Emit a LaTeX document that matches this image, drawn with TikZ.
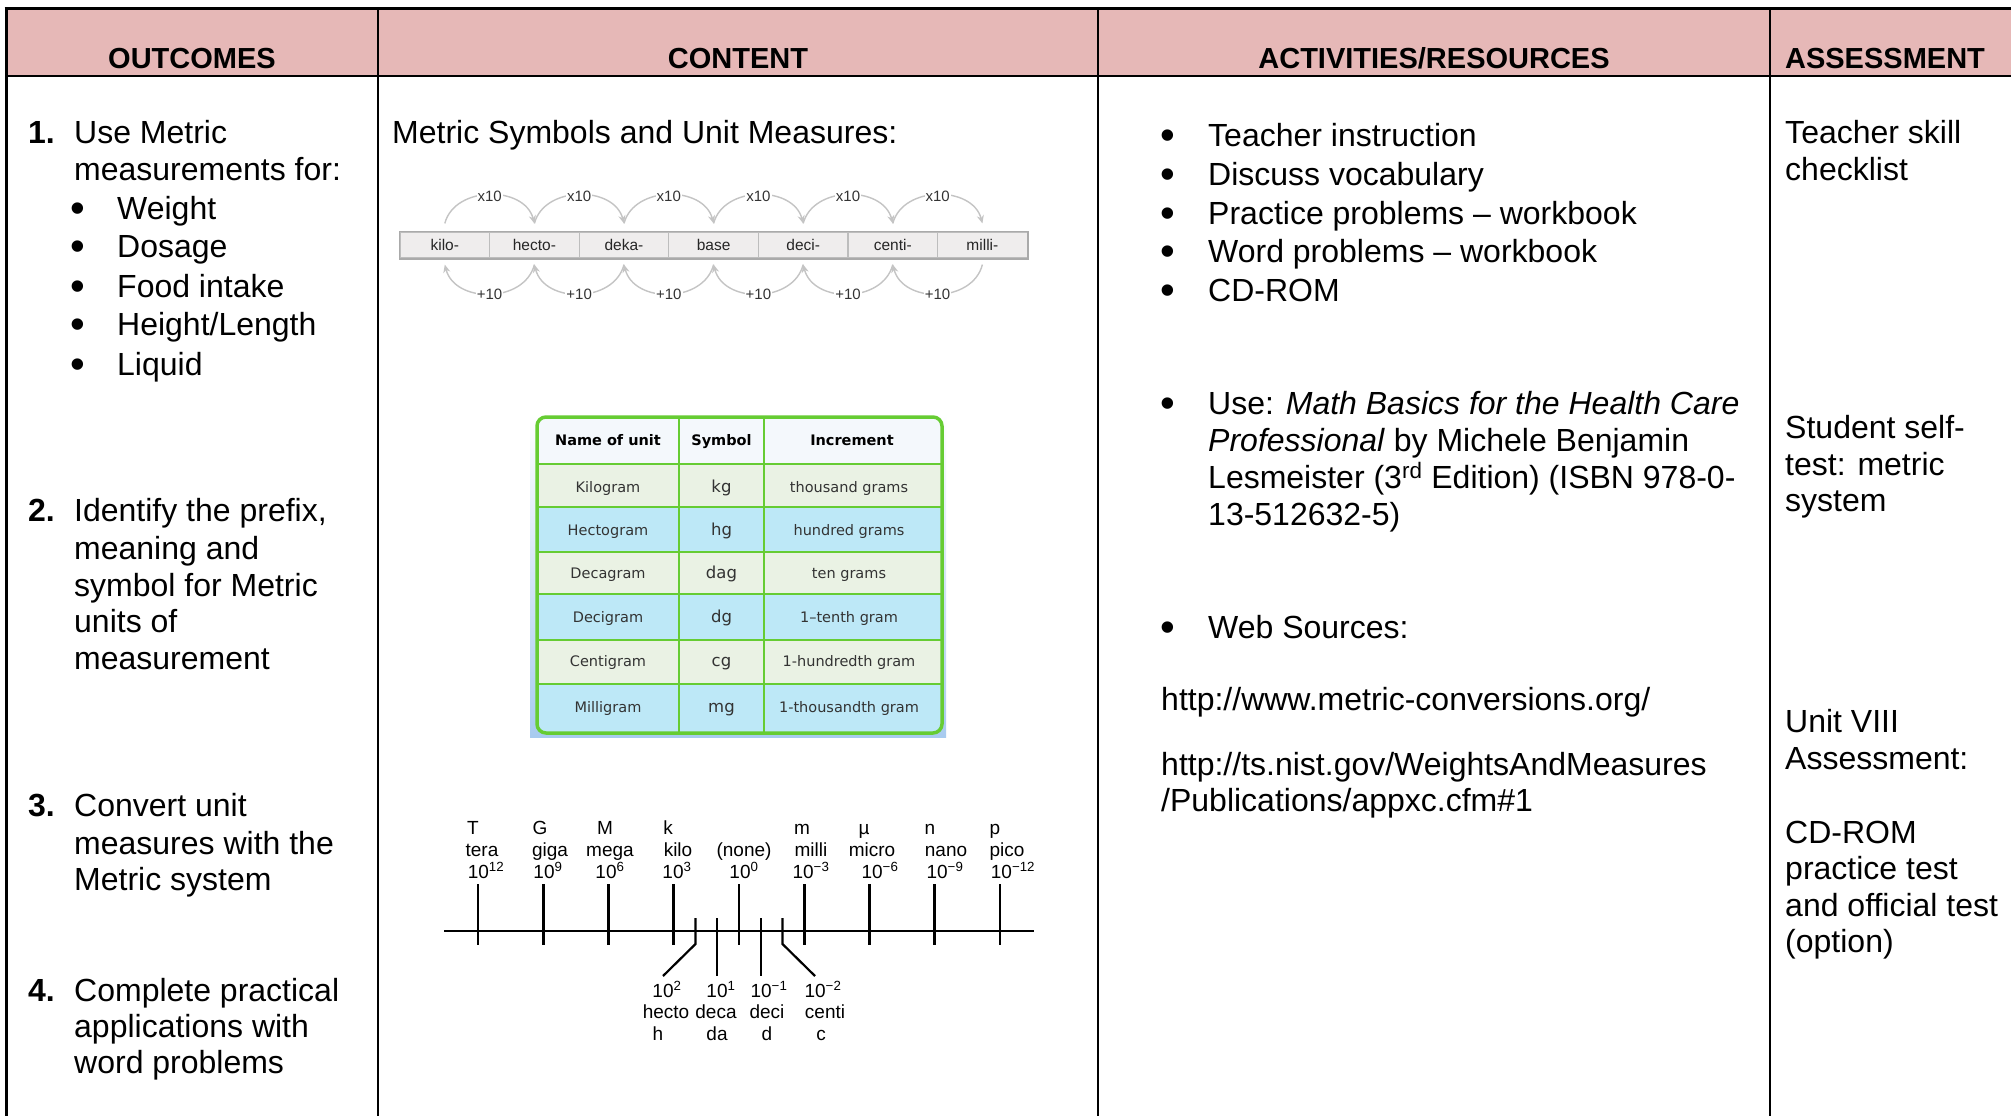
\documentclass[tikz,border=0pt]{standalone}
\usepackage{fontspec}
\setmainfont{Liberation Sans}
\newfontfamily\verd{DejaVu Sans}
\usetikzlibrary{arrows.meta}
\definecolor{hdr}{HTML}{E6B8B7}
\definecolor{tgreen}{HTML}{66CC33}
\definecolor{tblue}{HTML}{BDE8F7}
\definecolor{tlgreen}{HTML}{EAF2E4}
\definecolor{thead}{HTML}{F4F8FC}
\definecolor{bgblue}{HTML}{A8CBEF}
\definecolor{tgtext}{HTML}{333333}
\definecolor{arcgray}{HTML}{C4C4C4}
\definecolor{cellgray}{HTML}{EFEDED}
\definecolor{cellline}{HTML}{BDBDBD}
\begin{document}
\begin{tikzpicture}[x=1pt,y=-1pt,
  body/.style={anchor=base west,inner sep=0pt,font=\fontsize{32}{37}\selectfont},
  bodyb/.style={anchor=base west,inner sep=0pt,font=\fontsize{32}{37}\selectfont\bfseries},
  bul/.style={anchor=base west,inner sep=0pt,font=\fontsize{42}{44}\selectfont},
  hdrtxt/.style={anchor=base,inner sep=0pt,font=\fontsize{29}{34}\selectfont\bfseries},
  pcell/.style={draw=cellline,fill=cellgray,minimum width=89.6pt,minimum height=26pt,inner sep=0pt,line width=1.2pt,font=\fontsize{15.5}{18}\selectfont,text=black!85},
  plab/.style={fill=white,inner sep=1pt,font=\fontsize{15}{17}\selectfont,text=black!80},
  arcline/.style={draw=arcgray,line width=1.4pt},
  tcell/.style={anchor=mid,inner sep=0pt,font=\verd\fontsize{14.5}{17}\selectfont,text=tgtext},
  tsym/.style={anchor=mid,inner sep=0pt,font=\verd\fontsize{16.5}{19}\selectfont,text=tgtext},
  thd/.style={anchor=mid,inner sep=0pt,font=\verd\bfseries\fontsize{14.5}{17}\selectfont,text=black},
  tl/.style={anchor=base,inner sep=0pt,font=\fontsize{19}{21}\selectfont},
  tmark/.style={line width=2.6pt},
  colrule/.style={line width=2pt}]
\clip (0,0) rectangle (2011,1116);
\fill[white] (0,0) rectangle (2011,1116);
% ---------- table frame ----------
\fill[hdr] (6,9) rectangle (2011,76);
\draw[line width=3pt] (4.5,9) -- (2011,9);
\draw[line width=2.5pt] (6,76) -- (2011,76);
\draw[line width=3pt] (6,7.5) -- (6,1116);
\foreach \x in {378,1098,1770} \draw[colrule] (\x,9) -- (\x,1116);
\node[hdrtxt] (h1) at (192,69) {OUTCOMES};
\node[hdrtxt] (h2) at (738,69) {CONTENT};
\node[hdrtxt] (h3) at (1434,69) {ACTIVITIES/RESOURCES};
\node[hdrtxt] (h4) at (1885,69) {ASSESSMENT};
% ---------- outcomes ----------
\node[bodyb] (n1) at (28,143) {1.};
\node[body] (o1a) at (74,143) {Use Metric};
\node[body] (o1b) at (74,180) {measurements for:};
\foreach \y/\t/\n in {219/Weight/w,257/Dosage/d,297/Food intake/f,335/{Height/Length}/h,375/Liquid/l}{
  \node[bul] (ob\n) at (70,\y+3) {•};
  \node[body] (ot\n) at (117,\y) {\t};
}
\node[bodyb] (n2) at (28,521) {2.};
\node[body] (o2a) at (74,521) {Identify the prefix,};
\node[body] (o2b) at (74,559) {meaning and};
\node[body] (o2c) at (74,596) {symbol for Metric};
\node[body] (o2d) at (74,632) {units of};
\node[body] (o2e) at (74,669) {measurement};
\node[bodyb] (n3) at (28,816) {3.};
\node[body] (o3a) at (74,816) {Convert unit};
\node[body] (o3b) at (74,854) {measures with the};
\node[body] (o3c) at (74,890) {Metric system};
\node[bodyb] (n4) at (28,1001) {4.};
\node[body] (o4a) at (74,1001) {Complete practical};
\node[body] (o4b) at (74,1037) {applications with};
\node[body] (o4c) at (74,1073) {word problems};
% ---------- content ----------
\node[body] (c1) at (392,143) {Metric Symbols and Unit Measures:};
% prefix chart
\foreach \i/\t in {1/kilo-,2/hecto-,3/deka-,4/base,5/deci-,6/centi-,7/milli-}
  \node[pcell] (p\i) at ({400+89.6*(\i-0.5)},245) {\t};
\draw[draw=cellline!90!black,line width=1.8pt] (p1.north west) rectangle (p7.south east);
\foreach \i in {1,...,6}{
  \pgfmathtruncatemacro{\j}{\i+1}
  \draw[arcline,-{Stealth[length=8pt,width=7pt]}] ([yshift=8pt]p\i.north) .. controls +(10,-38) and +(-10,-38) .. ([yshift=8pt]p\j.north);
  \draw[arcline,-{Stealth[length=8pt,width=7pt]}] ([yshift=-6pt]p\j.south) .. controls +(-10,39) and +(10,39) .. ([yshift=-6pt]p\i.south);
  \node[plab] (mx\i) at ({400+89.6*\i},196) {x10};
  \node[plab] (dv\i) at ({400+89.6*\i},294) {+10};
}
% units table
\shade[top color=white,bottom color=bgblue] (530,413) rectangle (946,737);
\begin{scope}
\clip[rounded corners=9pt] (537,417) rectangle (942,733);
\fill[thead] (537,417) rectangle (942,464);
\fill[tlgreen] (537,464) rectangle (942,507);
\fill[tblue] (537,507) rectangle (942,552);
\fill[tlgreen] (537,552) rectangle (942,594);
\fill[tblue] (537,594) rectangle (942,640);
\fill[tlgreen] (537,640) rectangle (942,684);
\fill[tblue] (537,684) rectangle (942,733);
\end{scope}
\foreach \x in {679,764} \draw[tgreen,line width=1.8pt] (\x,417) -- (\x,733);
\foreach \y in {464,507,552,594,640,684} \draw[tgreen,line width=1.8pt] (537,\y) -- (942,\y);
\draw[tgreen,line width=3.5pt,rounded corners=9pt] (537,417) rectangle (942,733);
\node[thd] (tha) at (608,443) {Name of unit};
\node[thd] (thb) at (721.5,443) {Symbol};
\node[thd] (thc) at (852,443) {Increment};
\foreach \y/\a/\b/\c/\n in {490/Kilogram/kg/thousand grams/1,533/Hectogram/hg/hundred grams/2,576/Decagram/dag/ten grams/3,620/Decigram/dg/1–tenth gram/4,664/Centigram/cg/1-hundredth gram/5,710/Milligram/mg/1-thousandth gram/6}{
  \node[tcell] (ta\n) at (608,\y) {\a};
  \node[tsym] (tb\n) at (721.5,\y) {\b};
  \node[tcell] (tc\n) at (849,\y) {\c};
}
% timeline
\draw[tmark] (444,931) -- (1034,931);
\foreach \i in {0,...,8} \draw[tmark] ({478+65.25*\i},884) -- ({478+65.25*\i},945);
\draw[tmark,line width=2.2pt] (695.5,918) -- (695.5,944) -- (663,976);
\draw[tmark,line width=2.2pt] (717.3,918) -- (717.3,976);
\draw[tmark,line width=2.2pt] (760.8,918) -- (760.8,976);
\draw[tmark,line width=2.2pt] (782.5,918) -- (782.5,944) -- (815,976);
\foreach \x/\t/\n in {473/T/1,540/G/2,605/M/3,668/k/4,802/m/5,864/µ/6,930/n/7,995/p/8}
  \node[tl] (ts\n) at (\x,834) {\t};
\foreach \x/\t/\n in {482/tera/1,550/giga/2,610/mega/3,678/kilo/4,744/(none)/5,811/milli/6,872/micro/7,946/nano/8,1007/pico/9}
  \node[tl] (tn\n) at (\x,856) {\t};
\foreach \x/\t/\n in {486/12/1,548/9/2,610/6/3,677/3/4,744/0/5,811/−3/6,880/−6/7,945/−9/8,1013/−12/9}
  \node[tl] (te\n) at (\x,878) {10\textsuperscript{\t}};
\foreach \x/\t/\n in {667/2/1,721/1/2,769/−1/3,823/−2/4}
  \node[tl] (be\n) at (\x,997) {10\textsuperscript{\t}};
\foreach \x/\t/\n in {666/hecto/1,716/deca/2,767/deci/3,825/centi/4}
  \node[tl] (bn\n) at (\x,1018) {\t};
\foreach \x/\t/\n in {658/h/1,717/da/2,767/d/3,821/c/4}
  \node[tl] (bs\n) at (\x,1040) {\t};
% ---------- activities ----------
\foreach \y/\t/\n in {146/Teacher instruction/1,185/Discuss vocabulary/2,224/Practice problems – workbook/3,262/Word problems – workbook/4,301/CD-ROM/5}{
  \node[bul] (ab\n) at (1160,\y+3) {•};
  \node[body] (at\n) at (1208,\y) {\t};
}
\node[bul] (ab6) at (1160,417) {•};
\node[body] (au1) at (1208,414) {Use: \textit{Math Basics for the Health Care}};
\node[body] (au2) at (1208,451) {\textit{Professional} by Michele Benjamin};
\node[body] (au3) at (1208,488) {Lesmeister (3\textsuperscript{rd} Edition) (ISBN 978-0-};
\node[body] (au4) at (1208,525) {13-512632-5)};
\node[bul] (ab7) at (1160,641) {•};
\node[body] (aw) at (1208,638) {Web Sources:};
\node[body] (url1) at (1161,710) {http://www.metric-conversions.org/};
\node[body] (url2a) at (1161,775) {http://ts.nist.gov/WeightsAndMeasures};
\node[body] (url2b) at (1161,811) {/Publications/appxc.cfm\#1};
% ---------- assessment ----------
\node[body] (s1) at (1785,143) {Teacher skill};
\node[body] (s2) at (1785,180) {checklist};
\node[body] (s3) at (1785,438) {Student self-};
\node[body] (s4) at (1785,475) {test: metric};
\node[body] (s5) at (1785,511) {system};
\node[body] (s6) at (1785,732) {Unit VIII};
\node[body] (s7) at (1785,769) {Assessment:};
\node[body] (s8) at (1785,843) {CD-ROM};
\node[body] (s9) at (1785,879) {practice test};
\node[body] (s10) at (1785,916) {and official test};
\node[body] (s11) at (1785,952) {(option)};
\end{tikzpicture}
\end{document}
